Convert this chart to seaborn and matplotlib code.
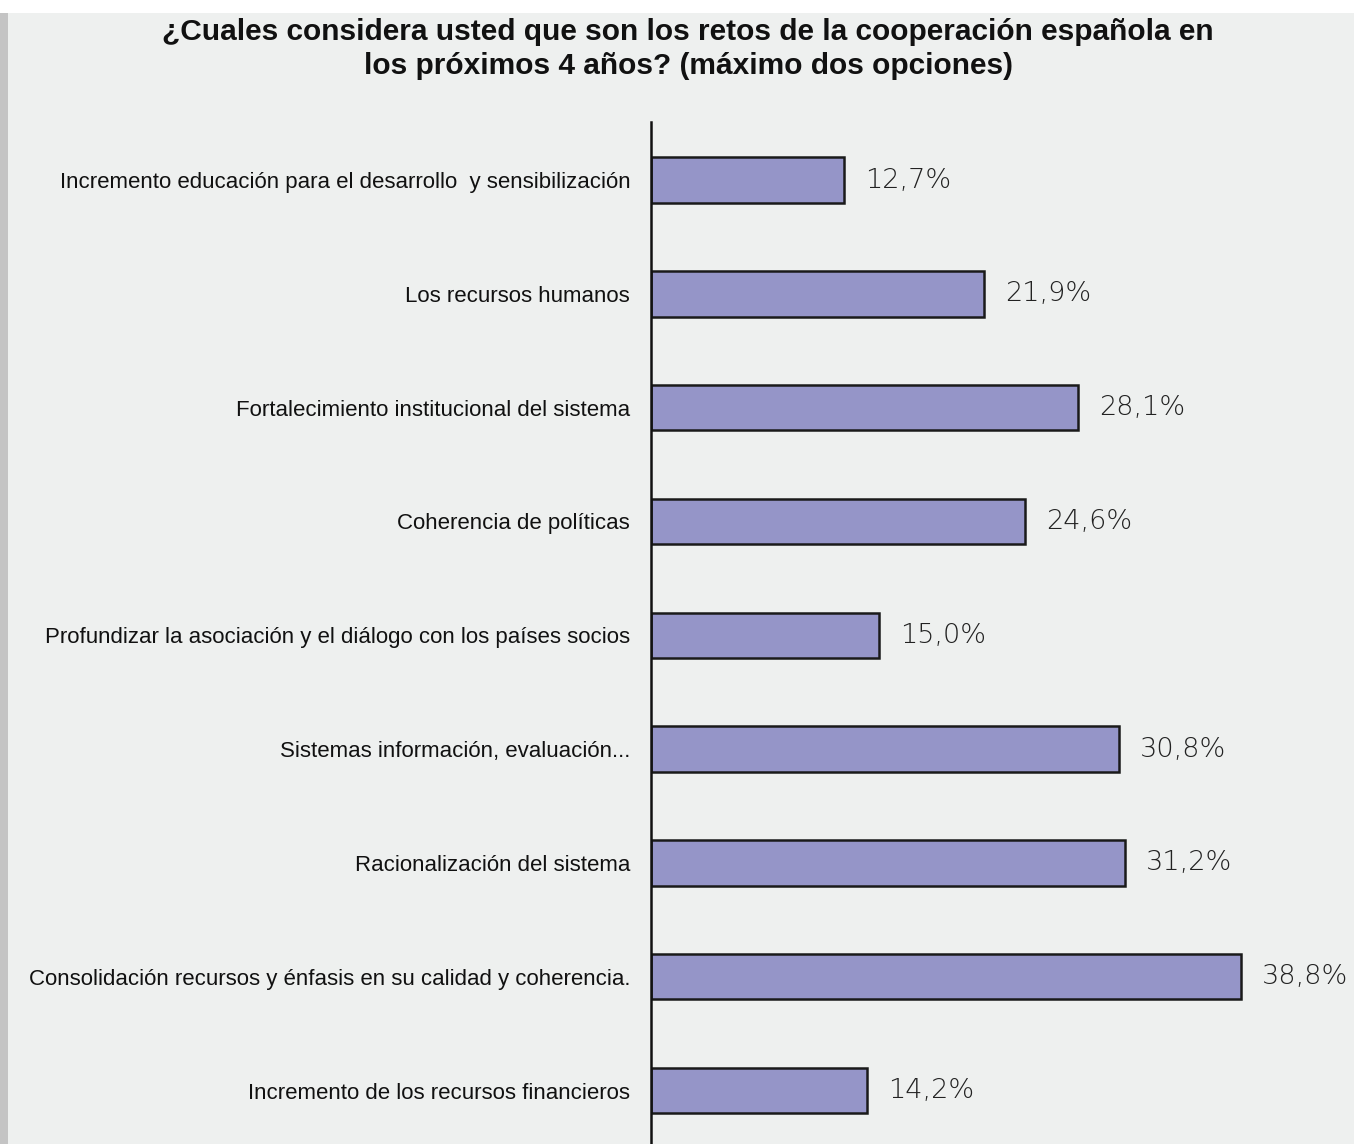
import matplotlib
matplotlib.use("Agg")
import matplotlib.pyplot as plt
import seaborn as sns
import pandas as pd
from matplotlib.patches import Rectangle

categories = [
    "Incremento educación para el desarrollo  y sensibilización",
    "Los recursos humanos",
    "Fortalecimiento institucional del sistema",
    "Coherencia de políticas",
    "Profundizar la asociación y el diálogo con los países socios",
    "Sistemas información, evaluación...",
    "Racionalización del sistema",
    "Consolidación recursos y énfasis en su calidad y coherencia.",
    "Incremento de los recursos financieros",
]
values = [12.7, 21.9, 28.1, 24.6, 15.0, 30.8, 31.2, 38.8, 14.2]
title = "¿Cuales considera usted que son los retos de la cooperación española en\nlos próximos 4 años? (máximo dos opciones)"

df = pd.DataFrame({"categoria": categories, "valor": values})

sns.set_theme(style="white")
plt.rcParams["font.family"] = ["Liberation Sans", "DejaVu Sans"]

W, H = 1354, 1144
fig = plt.figure(figsize=(W / 100, H / 100), dpi=100)
bg = "#EEF0EF"
fig.patch.set_facecolor(bg)
# white strip at top, grey strip at left
fig.patches.append(Rectangle((0, 1 - 13 / H), 1, 13 / H, transform=fig.transFigure,
                             facecolor="white", edgecolor="none", zorder=0))
fig.patches.append(Rectangle((0, 0), 8 / W, 1 - 13 / H, transform=fig.transFigure,
                             facecolor="#C4C4C4", edgecolor="none", zorder=0))

ax_left = 651 / W
ax_top = 1 - 122 / H
ax = fig.add_axes([ax_left, 0, 1 - ax_left, ax_top])
ax.set_facecolor(bg)

sns.barplot(data=df, y="categoria", x="valor", orient="h", ax=ax,
            color="#9595C8", saturation=1, width=0.40,
            edgecolor="#1a1a1a", linewidth=1.8)

px_per_unit = (1241 - 651) / 38.8
ax.set_xlim(0, (W - 651) / px_per_unit)
ax.set_ylim(8.47, -0.51)

for sp in ["top", "right", "bottom"]:
    ax.spines[sp].set_visible(False)
ax.spines["left"].set_color("#111111")
ax.spines["left"].set_linewidth(1.8)
ax.set_xticks([])
ax.set_xlabel("")
ax.set_ylabel("")
ax.tick_params(axis="y", length=0, pad=15, labelsize=16, labelcolor="#111111")

for i, v in enumerate(values):
    ax.text(v + 21 / px_per_unit, i, f"{v:.1f}%".replace(".", ","),
            va="center", ha="left", fontsize=19.5, color="#222222",
            family=["DejaVu Sans"], fontweight="light")

fig.text(688 / W, 1 - 49 / H, title, ha="center", va="center",
         fontsize=21.5, fontweight="bold", color="#111111", linespacing=1.3)

fig.savefig("out.png", dpi=100, facecolor=fig.get_facecolor())
